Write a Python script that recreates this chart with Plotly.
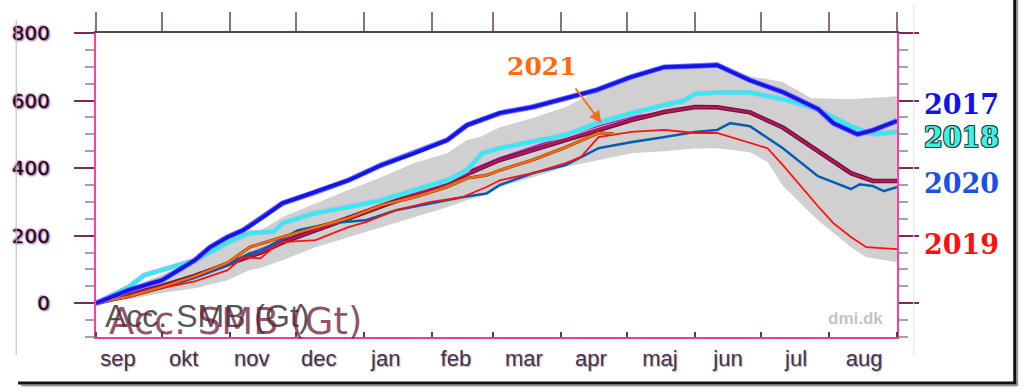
import plotly.graph_objects as go

# ---------------- data (days since 1 Sep, Acc. SMB in Gt) ----------------
months = ["sep", "okt", "nov", "dec", "jan", "feb", "mar", "apr", "maj", "jun", "jul", "aug"]
month_starts = [0, 30, 61, 91, 122, 153, 181, 212, 242, 273, 303, 334, 365]
month_label_days = [10, 40, 71, 101.5, 132, 164, 195, 225.5, 257, 288, 319, 350]

band_up_d = [0, 15, 30, 45, 60, 75, 85, 100, 115, 130, 145, 160, 169, 175, 184, 199, 214, 229, 244, 259, 268, 283, 298, 313, 326, 344, 365]
band_up_v = [0, 45, 85, 125, 170, 215, 255, 296, 335, 373, 415, 444, 483, 492, 521, 548, 581, 631, 660, 690, 708, 712, 672, 655, 607, 604, 613]
band_lo_d = [0, 15, 30, 45, 60, 70, 75, 85, 100, 115, 130, 145, 160, 169, 178, 184, 199, 214, 229, 244, 259, 268, 273, 283, 298, 306, 313, 329, 344, 351, 365]
band_lo_v = [0, 12, 30, 44, 68, 98, 105, 127, 166, 196, 225, 255, 284, 305, 322, 344, 373, 403, 424, 444, 450, 455, 458, 459, 447, 418, 347, 246, 166, 136, 121]

mean_d = [0, 15, 30, 45, 60, 75, 85, 100, 115, 130, 145, 160, 169, 184, 199, 214, 228, 244, 259, 273, 283, 298, 313, 329, 344, 354, 365]
mean_v = [0, 25, 50, 80, 115, 150, 180, 215, 250, 285, 322, 358, 382, 424, 453, 483, 513, 542, 566, 581, 580, 565, 520, 450, 385, 362, 362]

purple_d = [0, 15, 30, 45, 60, 75, 100, 130, 160, 184, 214, 229, 244, 254]
purple_v = [0, 30, 55, 85, 120, 160, 222, 292, 365, 430, 495, 525, 552, 560]

y2017_d = [0, 15, 30, 45, 52, 60, 67, 75, 85, 100, 115, 130, 145, 160, 169, 184, 199, 214, 228, 244, 259, 273, 283, 298, 313, 329, 336, 347, 354, 365]
y2017_v = [0, 39, 68, 127, 166, 196, 216, 250, 296, 329, 364, 409, 444, 483, 527, 563, 581, 607, 631, 670, 699, 702, 705, 660, 625, 575, 533, 500, 512, 540]

y2018_d = [0, 15, 22, 30, 45, 60, 67, 70, 81, 85, 100, 115, 130, 145, 160, 169, 176, 184, 199, 214, 228, 244, 259, 268, 273, 283, 298, 313, 329, 344, 354, 365]
y2018_v = [0, 48, 83, 98, 127, 178, 201, 207, 212, 237, 267, 284, 305, 335, 364, 394, 444, 459, 477, 498, 533, 563, 587, 600, 620, 624, 624, 604, 573, 524, 500, 507]

y2019_d = [0, 15, 30, 45, 60, 67, 75, 81, 85, 100, 115, 123, 137, 152, 167, 178, 184, 199, 214, 221, 229, 244, 259, 273, 283, 298, 306, 313, 321, 329, 336, 344, 351, 365]
y2019_v = [0, 18, 45, 65, 98, 136, 133, 166, 181, 187, 225, 240, 276, 299, 314, 344, 364, 385, 415, 433, 492, 507, 513, 504, 504, 474, 459, 409, 347, 287, 237, 196, 166, 160]

y2020_d = [0, 15, 30, 45, 60, 70, 75, 92, 107, 123, 137, 152, 167, 178, 184, 199, 214, 229, 244, 259, 273, 283, 289, 298, 313, 329, 336, 344, 348, 354, 359, 365]
y2020_v = [0, 20, 45, 75, 112, 148, 155, 216, 237, 246, 276, 296, 314, 325, 350, 385, 409, 459, 477, 492, 507, 513, 533, 524, 459, 376, 358, 338, 352, 347, 332, 344]

y2021_d = [0, 15, 30, 45, 60, 70, 85, 100, 115, 130, 145, 160, 169, 178, 184, 199, 214, 229, 236]
y2021_v = [0, 20, 48, 80, 120, 166, 196, 225, 252, 290, 314, 344, 370, 379, 394, 424, 462, 504, 501]

legend_labels = ["2017", "2018", "2020", "2019"]
y_ticks = [0, 200, 400, 600, 800]

# ---------------- layout helpers (pixel -> paper) ----------------
L, R, T, B = 84, 897, 33, 337
W, H = 1024, 390
def px(x):
    return (x - L) / (R - L)
def py(y):
    return (B - y) / (B - T)

fig = go.Figure()

# grey range band
fig.add_trace(go.Scatter(
    x=band_up_d + band_lo_d[::-1], y=band_up_v + band_lo_v[::-1],
    fill="toself", fillcolor="#d0d0d0", line=dict(width=0), mode="lines",
    hoverinfo="skip", showlegend=False))

def add_line(d, v, color, width):
    fig.add_trace(go.Scatter(x=d, y=v, mode="lines", line=dict(color=color, width=width),
                             showlegend=False, hoverinfo="skip"))

add_line(purple_d, purple_v, "#9a2fc0", 2)
add_line(mean_d, mean_v, "#6a0f38", 4.5)
add_line(mean_d, mean_v, "#b0185a", 2.5)
add_line(y2020_d, y2020_v, "#10a060", 2.6)
add_line(y2020_d, y2020_v, "#1048e0", 1.8)
add_line(y2019_d, y2019_v, "#ff1010", 1.8)
add_line(y2021_d, y2021_v, "#8a3a10", 3.2)
add_line(y2021_d, y2021_v, "#ff6a10", 2.2)
add_line(y2018_d, y2018_v, "#d8b0f0", 5.5)
add_line(y2018_d, y2018_v, "#30eeee", 4)
add_line(y2017_d, y2017_v, "#7070ff", 5.5)
add_line(y2017_d, y2017_v, "#1414e8", 3.6)

# dummy trace for the top axis
fig.add_trace(go.Scatter(x=[0], y=[0], xaxis="x2", mode="markers",
                         marker=dict(opacity=0), showlegend=False, hoverinfo="skip"))

fig.update_layout(
    width=W, height=H,
    margin=dict(l=L, r=W - R, t=T, b=H - B),
    paper_bgcolor="white", plot_bgcolor="white",
    showlegend=False,
    xaxis=dict(
        range=[0, 365], showgrid=False, zeroline=False,
        tickvals=month_label_days, ticktext=months, ticks="",
        tickfont=dict(family="Liberation Sans", size=22, color="#45344a",
                      shadow="1px 1px 1px #b8a8b8"),
        ticklabelstandoff=1,
        showline=True, linecolor="#e0409a", linewidth=2,
        minor=dict(tickvals=month_starts, ticks="inside", ticklen=5,
                   tickwidth=2, tickcolor="#5a3a50"),
    ),
    xaxis2=dict(
        range=[0, 365], overlaying="x", side="top", anchor="y",
        showgrid=False, zeroline=False, showticklabels=False,
        tickvals=month_starts, ticks="outside", ticklen=19, tickwidth=2,
        tickcolor="#8a7088", showline=True, linecolor="#5a4050", linewidth=2,
    ),
    yaxis=dict(
        range=[-100, 800], showgrid=False, zeroline=False,
        tickvals=y_ticks, ticks="outside", ticklen=20, tickwidth=2,
        tickcolor="#7a2a5a", showline=True, linecolor="#ff3fa0", linewidth=2,
        mirror="ticks",
        tickfont=dict(family="DejaVu Sans", size=20, color="#1e0616",
                      shadow="1px 1px 2px #8a4a8a, -1px -1px 1px #c8a0c8"),
        ticklabelstandoff=20,
        minor=dict(dtick=50, ticks="outside", ticklen=9, tickwidth=2, tickcolor="#a8a0a8"),
    ),
)

ann = []
# Acc. SMB (Gt) ghost texts
ann.append(dict(xref="x", yref="y", x=3, y=-37, xanchor="left", yanchor="middle",
                text="Acc. SMB (Gt)", showarrow=False,
                font=dict(family="Liberation Sans", size=32, color="rgba(55,55,55,0.85)")))
ann.append(dict(xref="x", yref="y", x=5, y=-55, xanchor="left", yanchor="middle",
                text="Acc. SMB (Gt)", showarrow=False,
                font=dict(family="DejaVu Sans", size=37, color="rgba(110,25,60,0.75)")))
ann.append(dict(xref="x", yref="y", x=346, y=-44, xanchor="center", yanchor="middle",
                text="dmi.dk", showarrow=False,
                font=dict(family="Liberation Sans", size=17, color="#c4c4c4", weight="bold")))

# right-hand year labels
leg_colors = ["#1212ea", "#38f2e6", "#1a50ea", "#ff1010"]
leg_y = [105, 137, 183, 244]
for lab, col, yy in zip(legend_labels, leg_colors, leg_y):
    f = dict(family="DejaVu Serif", size=27, color=col, weight="bold")
    if lab == "2018":
        f["shadow"] = "1px 1px 0 #333, -1px -1px 0 #333, 1px -1px 0 #333, -1px 1px 0 #333"
    ann.append(dict(xref="paper", yref="paper", x=px(962), y=py(yy),
                    xanchor="center", yanchor="middle", text=lab, showarrow=False, font=f))

# 2021 label + arrow
ann.append(dict(xref="paper", yref="paper", x=px(537), y=py(67), xanchor="center",
                yanchor="middle", text="2021", showarrow=False,
                font=dict(family="DejaVu Serif", size=25, color="#ff6a10", weight="bold")))
ann.append(dict(xref="paper", yref="paper", x=px(597), y=py(123), ax=-27, ay=-36,
                text="", showarrow=True, arrowhead=2, arrowsize=1.2, arrowwidth=2,
                arrowcolor="#f07020"))
fig.update_layout(annotations=ann)

# outer frame lines
shapes = [
    dict(type="line", xref="paper", yref="paper", x0=px(3), x1=px(3), y0=py(20), y1=py(355),
         line=dict(color="#b8b8b8", width=1)),
    dict(type="line", xref="paper", yref="paper", x0=px(914), x1=px(914), y0=py(5), y1=py(355),
         line=dict(color="#e4e4e4", width=1)),
    dict(type="line", xref="paper", yref="paper", x0=px(1019), x1=px(1019), y0=py(0), y1=py(386),
         line=dict(color="#9a9a9a", width=2)),
    dict(type="line", xref="paper", yref="paper", x0=px(1016.5), x1=px(1016.5), y0=py(0), y1=py(384),
         line=dict(color="#111111", width=3)),
    dict(type="line", xref="paper", yref="paper", x0=px(8), x1=px(1019), y0=py(385.5), y1=py(385.5),
         line=dict(color="#9a9a9a", width=2)),
    dict(type="line", xref="paper", yref="paper", x0=px(5), x1=px(1018), y0=py(383), y1=py(383),
         line=dict(color="#111111", width=3)),
]
fig.update_layout(shapes=shapes)

fig.write_html("out.html", config={"displayModeBar": False},
               post_script="document.body.style.margin='0';document.body.style.overflow='hidden';")
